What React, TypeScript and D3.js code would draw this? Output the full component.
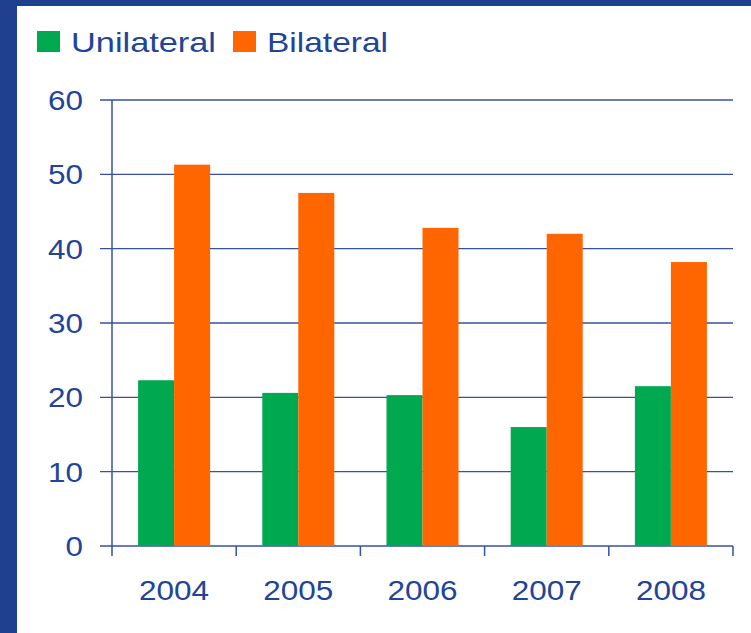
import React, { useEffect, useRef } from "react";
import * as d3 from "d3";

const years = ["2004", "2005", "2006", "2007", "2008"];
const unilateral = [22.3, 20.6, 20.3, 16.0, 21.5];
const bilateral = [51.3, 47.5, 42.8, 42.0, 38.2];
const yTicks = [0, 10, 20, 30, 40, 50, 60];
const seriesNames = ["Unilateral", "Bilateral"];

const W = 751;
const H = 633;
const FRAME = "#1f3f8f";
const TEXT = "#21449a";
const LINE = "#3552a2";
const COLORS = ["#00a850", "#ff6600"];

export default function App() {
  const ref = useRef<SVGSVGElement>(null);

  useEffect(() => {
    const svg = d3.select(ref.current);
    svg.selectAll("*").remove();

    const margin = { top: 100, right: 18, bottom: 87, left: 112 };

    // blue frame
    svg.append("rect").attr("width", W).attr("height", H).attr("fill", FRAME);
    svg.append("rect").attr("x", 17).attr("y", 6).attr("width", W - 17).attr("height", H - 6).attr("fill", "#fff");

    const x = d3
      .scaleBand()
      .domain(years)
      .range([margin.left, W - margin.right])
      .padding(0);

    const y = d3
      .scaleLinear()
      .domain([0, 60])
      .range([H - margin.bottom, margin.top]);

    const barW = 36;

    // gridlines + y labels
    const gy = svg.append("g");
    gy.selectAll("line")
      .data(yTicks)
      .join("line")
      .attr("x1", margin.left - 12)
      .attr("x2", W - margin.right)
      .attr("y1", (d) => y(d))
      .attr("y2", (d) => y(d))
      .attr("stroke", LINE)
      .attr("stroke-width", 1.3);

    gy.selectAll("text")
      .data(yTicks)
      .join("text")
      .attr("x", 83)
      .attr("y", (d) => y(d))
      .attr("dy", "0.36em")
      .attr("text-anchor", "end")
      .attr("fill", TEXT)
      .attr("font-size", 28)
      .attr("font-family", "'Liberation Sans', Arial, sans-serif")
      .attr("textLength", (d) => String(d).length * 17.5)
      .attr("lengthAdjust", "spacingAndGlyphs")
      .text((d) => d);

    // bars
    const series = [unilateral, bilateral];
    series.forEach((vals, si) => {
      svg
        .append("g")
        .attr("fill", COLORS[si])
        .selectAll("rect")
        .data(years)
        .join("rect")
        .attr("x", (d) => x(d)! + x.bandwidth() / 2 - barW + si * barW)
        .attr("y", (d, i) => y(vals[i]))
        .attr("width", barW)
        .attr("height", (d, i) => y(0) - y(vals[i]));
    });

    // axes
    svg
      .append("line")
      .attr("x1", margin.left)
      .attr("x2", margin.left)
      .attr("y1", y(60))
      .attr("y2", y(0) + 10)
      .attr("stroke", LINE)
      .attr("stroke-width", 1.5);

    const bounds = years.map((d) => x(d)!).concat([W - margin.right]);
    svg
      .append("g")
      .selectAll("line")
      .data(bounds.slice(1))
      .join("line")
      .attr("x1", (d) => d)
      .attr("x2", (d) => d)
      .attr("y1", y(0))
      .attr("y2", y(0) + 10)
      .attr("stroke", LINE)
      .attr("stroke-width", 1.5);

    svg
      .append("g")
      .selectAll("text")
      .data(years)
      .join("text")
      .attr("x", (d) => x(d)! + x.bandwidth() / 2)
      .attr("y", 600)
      .attr("text-anchor", "middle")
      .attr("fill", TEXT)
      .attr("font-size", 28)
      .attr("font-family", "'Liberation Sans', Arial, sans-serif")
      .attr("textLength", 70)
      .attr("lengthAdjust", "spacingAndGlyphs")
      .text((d) => d);

    // legend
    const legend = [
      { x: 37, w: 145 },
      { x: 233, w: 121 },
    ];
    legend.forEach((l, i) => {
      svg
        .append("rect")
        .attr("x", l.x)
        .attr("y", 31)
        .attr("width", 23)
        .attr("height", 21)
        .attr("fill", COLORS[i]);
      svg
        .append("text")
        .attr("x", l.x + 34)
        .attr("y", 52)
        .attr("fill", TEXT)
        .attr("font-size", 28)
        .attr("font-family", "'Liberation Sans', Arial, sans-serif")
        .attr("textLength", l.w)
        .attr("lengthAdjust", "spacingAndGlyphs")
        .text(seriesNames[i]);
    });
  }, []);

  return (
    <svg
      ref={ref}
      width={W}
      height={H}
      style={{ position: "absolute", left: 0, top: 0, display: "block" }}
    />
  );
}
